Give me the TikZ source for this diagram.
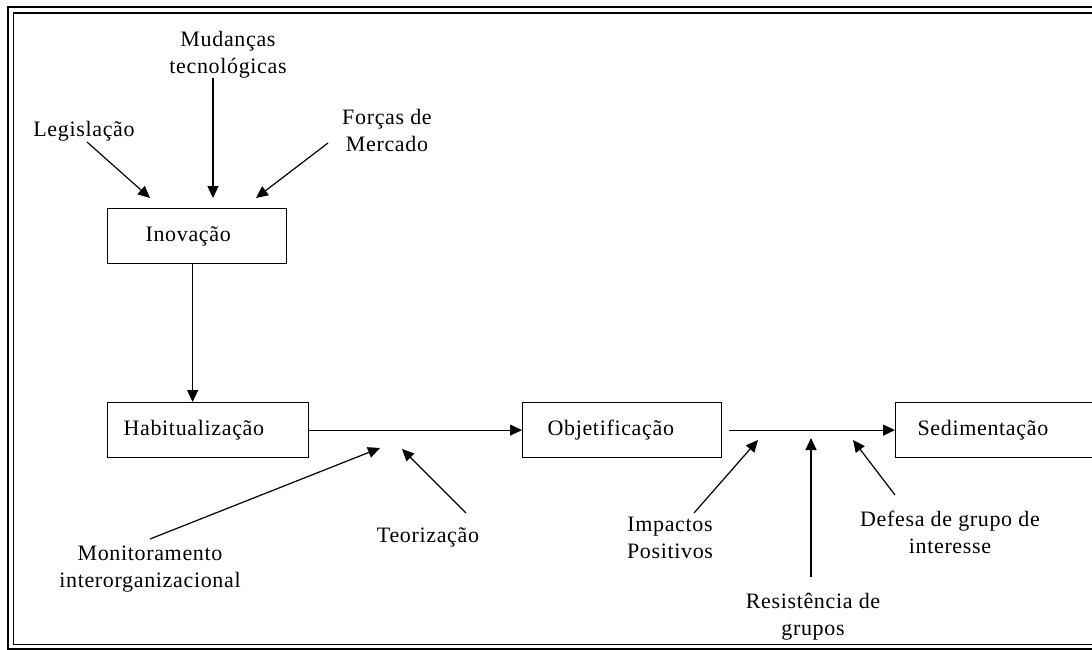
\documentclass[tikz,border=0pt]{standalone}
\usepackage{fontspec}
\setmainfont[LetterSpace=3]{Liberation Serif}
\usetikzlibrary{arrows.meta}
\begin{document}
\begin{tikzpicture}[x=1pt,y=-1pt,
  every node/.style={font=\fontsize{22}{27}\selectfont, text=black},
  box/.style={draw, line width=1.2pt, minimum height=55pt, inner ysep=0pt, align=left, anchor=north west},
  lbl/.style={align=center, inner sep=0pt},
  arr/.style={line width=1.2pt, -{Triangle[length=12pt,width=11pt]}},
  frame/.style={line width=#1}]
\useasboundingbox (0,0) rectangle (1092,650);
\fill[white] (0,0) rectangle (1092,650);
\clip (0,0) rectangle (1092,650);
% double frame
\draw[frame=2pt] (7.7,7) rectangle (1110,649);
\draw[frame=1.5pt] (13.7,13) rectangle (1110,644.5);
% boxes
\node[box, inner xsep=38pt, text width=103pt] (inov) at (107,208) {Inovação};
\node[box, inner xsep=16pt, text width=169pt] (habit) at (107,402) {Habitualização};
\node[box, inner xsep=25pt, text width=149pt] (obj) at (522,402) {Objetificação};
\node[box, inner xsep=22pt, text width=161pt] (sed) at (895,402) {Sedimentação};
% labels
\node[lbl] (mud) at (228,55) {Mudanças\\tecnológicas};
\node[lbl] (leg) at (84,131) {Legislação};
\node[lbl] (forc) at (387,130) {Forças de\\Mercado};
\node[lbl] (mon) at (150,569) {Monitoramento\\interorganizacional};
\node[lbl] (teo) at (428,537) {Teorização};
\node[lbl] (imp) at (670,538) {Impactos\\Positivos};
\node[lbl] (res) at (813,617) {Resistência de\\grupos};
\node[lbl] (def) at (950,532) {Defesa de grupo de\\interesse};
% coordinates for free ends
\coordinate (legS) at (87,142);   \coordinate (legT) at (150,198);
\coordinate (mudS) at (213,78);   \coordinate (mudT) at (213,198);
\coordinate (forS) at (328,143);  \coordinate (forT) at (256,198);
\coordinate (monS) at (150,539);  \coordinate (monT) at (380,448);
\coordinate (teoS) at (466,513);  \coordinate (teoT) at (402,449);
\coordinate (impS) at (694,513);  \coordinate (impT) at (758,440);
\coordinate (resS) at (811,577);  \coordinate (resT) at (811,438);
\coordinate (defS) at (895,495);  \coordinate (defT) at (853,440);
% influence arrows
\draw[arr] (legS) -- (legT);
\draw[arr] (mudS) -- (mudT);
\draw[arr] (forS) -- (forT);
\draw[arr] (monS) -- (monT);
\draw[arr] (teoS) -- (teoT);
\draw[arr] (impS) -- (impT);
\draw[arr] (resS) -- (resT);
\draw[arr] (defS) -- (defT);
% main flow
\draw[arr] ([xshift=-4.5pt]inov.south) -- ([xshift=-4.5pt]inov.south |- habit.north);
\draw[arr] (habit.east) -- (obj.west);
\draw[arr] ([xshift=7pt]obj.east) -- (sed.west);
\end{tikzpicture}
\end{document}
